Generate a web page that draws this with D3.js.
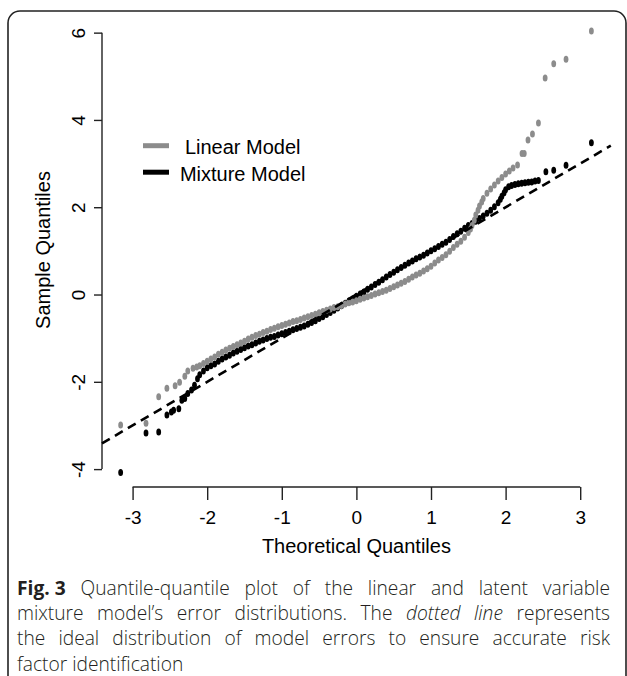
<!DOCTYPE html>
<html>
<head>
<meta charset="UTF-8">
<title>Quantile-quantile plot</title>
<script src="https://d3js.org/d3.v7.min.js"></script>
<style>
  body { margin: 0; background: #fff; }
  svg { display: block; }
</style>
</head>
<body>
<div id="chart"></div>
<script>
// axis ticks
const xTicks = [-3, -2, -1, 0, 1, 2, 3];
const yTicks = [-4, -2, 0, 2, 4, 6];

// legend
const seriesNames = ["Linear Model", "Mixture Model"];
const seriesColors = ["#8c8c8c", "#000000"];

// reference line: [intercept, slope]
const refLine = [0.0, 1.0];

// [theoretical quantile, sample quantile]
const linearModel = [
  [-3.16, -2.99], [-2.82, -2.95], [-2.65, -2.34], [-2.54, -2.15], [-2.43, -2.09],
  [-2.37, -2.01], [-2.30, -1.87], [-2.26, -1.75], [-2.19, -1.69], [-2.14, -1.66],
  [-2.10, -1.63], [-2.05, -1.58], [-2.00, -1.53], [-1.95, -1.48], [-1.90, -1.43],
  [-1.85, -1.37], [-1.80, -1.32], [-1.75, -1.27], [-1.70, -1.23], [-1.65, -1.19],
  [-1.60, -1.15], [-1.55, -1.11], [-1.50, -1.07], [-1.45, -1.02], [-1.40, -0.98],
  [-1.35, -0.94], [-1.30, -0.91], [-1.25, -0.87], [-1.20, -0.84], [-1.15, -0.80],
  [-1.10, -0.77], [-1.05, -0.74], [-1.00, -0.71], [-0.95, -0.68], [-0.90, -0.65],
  [-0.85, -0.62], [-0.80, -0.60], [-0.75, -0.57], [-0.70, -0.54], [-0.65, -0.51],
  [-0.60, -0.48], [-0.55, -0.45], [-0.50, -0.42], [-0.45, -0.39], [-0.40, -0.36],
  [-0.35, -0.33], [-0.30, -0.30], [-0.25, -0.28], [-0.20, -0.25], [-0.15, -0.22],
  [-0.10, -0.19], [-0.05, -0.17], [0.00, -0.14], [0.05, -0.11], [0.10, -0.08],
  [0.15, -0.05], [0.20, -0.02], [0.25, 0.01], [0.30, 0.04], [0.35, 0.07],
  [0.40, 0.10], [0.45, 0.14], [0.50, 0.18], [0.55, 0.22], [0.60, 0.26],
  [0.65, 0.30], [0.70, 0.35], [0.75, 0.40], [0.80, 0.45], [0.85, 0.49],
  [0.90, 0.54], [0.95, 0.59], [1.00, 0.65], [1.05, 0.72], [1.10, 0.79],
  [1.15, 0.85], [1.20, 0.91], [1.25, 0.99], [1.30, 1.08], [1.35, 1.15],
  [1.40, 1.22], [1.45, 1.31], [1.50, 1.42], [1.53, 1.50], [1.55, 1.58],
  [1.58, 1.70], [1.60, 1.82], [1.63, 1.93], [1.65, 2.03], [1.68, 2.12],
  [1.70, 2.20], [1.75, 2.32], [1.80, 2.42], [1.85, 2.51], [1.90, 2.60],
  [1.95, 2.68], [2.00, 2.76], [2.05, 2.83], [2.10, 2.90], [2.16, 2.97],
  [2.22, 3.23], [2.25, 3.23], [2.30, 3.54], [2.36, 3.68], [2.44, 3.93],
  [2.53, 4.96], [2.645, 5.29], [2.81, 5.39], [3.15, 6.04]
];

const mixtureModel = [
  [-3.16, -4.08], [-2.82, -3.17], [-2.65, -3.15], [-2.54, -2.76], [-2.48, -2.69],
  [-2.45, -2.65], [-2.38, -2.62], [-2.34, -2.42], [-2.30, -2.38], [-2.26, -2.27],
  [-2.21, -2.19], [-2.17, -2.08], [-2.13, -1.93], [-2.10, -1.84], [-2.05, -1.75],
  [-2.00, -1.68], [-1.95, -1.63], [-1.90, -1.59], [-1.85, -1.53], [-1.80, -1.48],
  [-1.75, -1.43], [-1.70, -1.39], [-1.65, -1.34], [-1.60, -1.30], [-1.55, -1.26],
  [-1.50, -1.22], [-1.45, -1.18], [-1.40, -1.15], [-1.35, -1.11], [-1.30, -1.07],
  [-1.25, -1.04], [-1.20, -1.01], [-1.15, -0.98], [-1.10, -0.96], [-1.05, -0.93],
  [-1.00, -0.90], [-0.95, -0.87], [-0.90, -0.84], [-0.85, -0.81], [-0.80, -0.78],
  [-0.75, -0.75], [-0.70, -0.72], [-0.65, -0.68], [-0.60, -0.64], [-0.55, -0.60],
  [-0.50, -0.55], [-0.45, -0.51], [-0.40, -0.46], [-0.35, -0.41], [-0.30, -0.36],
  [-0.25, -0.31], [-0.20, -0.26], [-0.15, -0.20], [-0.10, -0.15], [-0.05, -0.10],
  [0.00, -0.04], [0.05, 0.01], [0.10, 0.06], [0.15, 0.12], [0.20, 0.17],
  [0.25, 0.23], [0.30, 0.28], [0.35, 0.34], [0.40, 0.40], [0.45, 0.46],
  [0.50, 0.51], [0.55, 0.57], [0.60, 0.62], [0.65, 0.67], [0.70, 0.72],
  [0.75, 0.77], [0.80, 0.82], [0.85, 0.86], [0.90, 0.90], [0.95, 0.95],
  [1.00, 1.00], [1.05, 1.05], [1.10, 1.10], [1.15, 1.15], [1.20, 1.20],
  [1.25, 1.26], [1.30, 1.33], [1.35, 1.39], [1.40, 1.45], [1.45, 1.52],
  [1.50, 1.58], [1.55, 1.63], [1.60, 1.68], [1.65, 1.74], [1.70, 1.80],
  [1.75, 1.86], [1.80, 1.93], [1.85, 2.01], [1.90, 2.10], [1.93, 2.18],
  [1.95, 2.25], [1.98, 2.33], [2.00, 2.40], [2.04, 2.47], [2.08, 2.50],
  [2.125, 2.52], [2.17, 2.54], [2.215, 2.55], [2.26, 2.56], [2.305, 2.57],
  [2.35, 2.58], [2.395, 2.60], [2.44, 2.61], [2.54, 2.81],
  [2.645, 2.85], [2.81, 2.96], [3.15, 3.48]
];

// caption, one array of [text, style] runs per line
const captionLines = [
  [["Fig. 3", "bold"], [" Quantile-quantile plot of the linear and latent variable", "normal"]],
  [["mixture model\u2019s error distributions. The ", "normal"], ["dotted line", "italic"], [" represents", "normal"]],
  [["the ideal distribution of model errors to ensure accurate risk", "normal"]],
  [["factor identification", "normal"]]
];

const width = 627;
const height = 676;

const svg = d3.select("#chart")
  .append("svg")
  .attr("width", width)
  .attr("height", height);

// rounded frame around the figure
svg.append("rect")
  .attr("x", 8).attr("y", 11)
  .attr("width", 618).attr("height", 720)
  .attr("rx", 12)
  .attr("fill", "none")
  .attr("stroke", "#222")
  .attr("stroke-width", 1.6);

// plot region (R style, 4% padding)
const x = d3.scaleLinear().domain([-3.41, 3.41]).range([102, 610.8]);
const y = d3.scaleLinear().domain([-4.41, 6.45]).range([487, 13]);

const axisFont = "'Liberation Sans', Arial, sans-serif";
const fmt = d => String(d);

// x axis
const gx = svg.append("g")
  .attr("transform", `translate(0,${y.range()[0]})`)
  .call(d3.axisBottom(x).tickValues(xTicks).tickSize(13).tickFormat(fmt));
gx.select(".domain").remove();
gx.selectAll(".tick line").attr("stroke", "#222").attr("stroke-width", 1.4);
gx.selectAll(".tick text")
  .attr("y", 37).attr("dy", 0)
  .attr("font-family", axisFont).attr("font-size", 19).attr("fill", "#000");
gx.append("line")
  .attr("x1", x(xTicks[0])).attr("x2", x(xTicks[xTicks.length - 1]))
  .attr("stroke", "#222").attr("stroke-width", 1.4);

// y axis
const gy = svg.append("g")
  .attr("transform", `translate(${x.range()[0]},0)`)
  .call(d3.axisLeft(y).tickValues(yTicks).tickSize(8).tickFormat(fmt));
gy.select(".domain").remove();
gy.selectAll(".tick line").attr("stroke", "#222").attr("stroke-width", 1.4);
gy.selectAll(".tick text")
  .attr("x", 0).attr("dy", 0)
  .attr("text-anchor", "middle")
  .attr("transform", "translate(-17,0) rotate(-90)")
  .attr("font-family", axisFont).attr("font-size", 19).attr("fill", "#000");
gy.append("line")
  .attr("y1", y(yTicks[0])).attr("y2", y(yTicks[yTicks.length - 1]))
  .attr("stroke", "#222").attr("stroke-width", 1.4);

// axis titles
svg.append("text")
  .attr("x", (x.range()[0] + x.range()[1]) / 2).attr("y", 553)
  .attr("text-anchor", "middle")
  .attr("font-family", axisFont).attr("font-size", 20)
  .text("Theoretical Quantiles");

svg.append("text")
  .attr("transform", `translate(50,${(y.range()[0] + y.range()[1]) / 2}) rotate(-90)`)
  .attr("text-anchor", "middle")
  .attr("font-family", axisFont).attr("font-size", 20)
  .text("Sample Quantiles");

// points: mixture first, linear on top
const plot = svg.append("g");
[[mixtureModel, seriesColors[1]], [linearModel, seriesColors[0]]].forEach(([data, col]) => {
  plot.append("g").selectAll("ellipse")
    .data(data)
    .join("ellipse")
    .attr("cx", d => x(d[0]))
    .attr("cy", d => y(d[1]))
    .attr("rx", 2.4)
    .attr("ry", 3.5)
    .attr("fill", col);
});

// dashed reference line across the plot region
const xd = x.domain();
svg.append("line")
  .attr("x1", x(xd[0])).attr("y1", y(refLine[0] + refLine[1] * xd[0]))
  .attr("x2", x(xd[1])).attr("y2", y(refLine[0] + refLine[1] * xd[1]))
  .attr("stroke", "#000")
  .attr("stroke-width", 2.6)
  .attr("stroke-dasharray", "9,6");

// legend
const legend = svg.append("g");
seriesNames.forEach((name, i) => {
  const ly = 145.7 + i * 26.5;
  legend.append("line")
    .attr("x1", 143).attr("x2", 169)
    .attr("y1", ly).attr("y2", ly)
    .attr("stroke", seriesColors[i]).attr("stroke-width", 5);
  legend.append("text")
    .attr("x", 242.7).attr("y", ly + 8.6)
    .attr("text-anchor", "middle")
    .attr("font-family", axisFont).attr("font-size", 20)
    .text(name);
});

// caption, justified except the last line; extra word space only outside the bold label
const capLeft = 17, capRight = 610;
captionLines.forEach((runs, i) => {
  const t = svg.append("text")
    .attr("x", capLeft)
    .attr("y", 595 + i * 25.2)
    .attr("font-family", "'Open Sans', 'Noto Sans', sans-serif")
    .attr("font-weight", 300)
    .attr("font-size", 19.2)
    .attr("fill", "#231f20");
  const spans = runs.map(([str, style]) => {
    const s = t.append("tspan").text(str);
    if (style === "bold") s.attr("font-weight", "bold");
    if (style === "italic") s.attr("font-style", "italic");
    return [s, str, style];
  });
  if (i < captionLines.length - 1) {
    const w = t.node().getComputedTextLength();
    const stretchable = spans.filter(d => d[2] !== "bold");
    const spaces = d3.sum(stretchable, d => (d[1].match(/ /g) || []).length);
    const ws = Math.max(-2, (capRight - capLeft - w) / spaces);
    stretchable.forEach(d => d[0].attr("word-spacing", ws));
  }
});
</script>
</body>
</html>
